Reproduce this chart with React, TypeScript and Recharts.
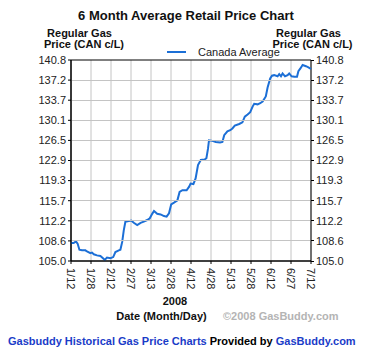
import React from "react";
import {
  LineChart,
  Line,
  XAxis,
  YAxis,
  CartesianGrid,
  Legend,
  ReferenceArea,
} from "recharts";

const dateLabels = ["1/12", "1/28", "2/12", "2/27", "3/13", "3/28", "4/12", "4/28", "5/13", "5/28", "6/12", "6/27", "7/12"];
const yTickLabels = ["105.0", "108.6", "112.2", "115.7", "119.3", "122.9", "126.5", "130.1", "133.7", "137.2", "140.8"];

// x position in tick intervals (0 = 1/12, 12 = 7/12)
const pointPos = [
  0, 0.13, 0.25, 0.33, 0.42, 0.55, 0.72, 0.8, 0.97, 1.05, 1.14, 1.3, 1.47, 1.6, 1.69, 1.8, 1.97, 2.11,
  2.22, 2.39, 2.47, 2.56, 2.64, 2.72, 2.89, 3.01, 3.14, 3.31, 3.48, 3.64, 3.81, 3.94, 4.06, 4.15, 4.31,
  4.48, 4.65, 4.78, 4.9, 5.01, 5.15, 5.32, 5.43, 5.57, 5.78, 5.9, 5.98, 6.12, 6.23, 6.35, 6.49, 6.69,
  6.77, 6.85, 6.9, 7.07, 7.24, 7.45, 7.57, 7.66, 7.82, 7.96, 8.07, 8.19, 8.41, 8.57, 8.69, 8.83, 8.96,
  9.08, 9.16, 9.33, 9.46, 9.58, 9.74, 9.83, 9.96, 10.05, 10.16, 10.33, 10.41, 10.5, 10.58, 10.7, 10.83,
  10.91, 11.03, 11.17, 11.3, 11.37, 11.47, 11.58, 11.75, 11.87, 12,
];
const prices = [
  108.2, 108.2, 108.5, 108.1, 107.0, 106.9, 106.9, 106.7, 106.4, 106.5, 106.2, 106.0, 105.9, 105.5,
  105.2, 105.6, 105.5, 105.7, 106.6, 106.9, 107.0, 108.4, 110.5, 112.0, 112.1, 112.2, 111.8, 111.4,
  111.8, 112.0, 112.3, 112.6, 113.4, 113.9, 113.4, 113.3, 113.0, 112.9, 113.5, 115.1, 115.4, 115.8,
  117.3, 117.6, 117.6, 118.2, 118.8, 118.7, 119.7, 122.1, 123.0, 123.1, 123.3, 125.0, 126.5, 126.4,
  126.2, 126.1, 126.2, 127.4, 128.1, 128.3, 128.6, 129.1, 129.4, 129.7, 130.7, 131.1, 131.5, 132.5,
  133.0, 132.9, 133.1, 133.4, 134.3, 135.9, 137.5, 138.0, 138.1, 137.9, 138.3, 137.9, 138.4, 137.9,
  138.1, 138.4, 137.9, 137.8, 137.8, 138.8, 139.3, 139.9, 139.7, 139.5, 139.2,
];

const data = pointPos.map((x, i) => ({ x, price: prices[i] }));

const FONT = "'Liberation Sans', Arial, Helvetica, sans-serif";
const PLOT_W = 240;
const yTicks = yTickLabels.map((_, i) => Math.round((105 + (i * 35.8) / 10) * 100) / 100);

function DateTick({ x, y, payload }: any) {
  return (
    <g transform={`translate(${x},${y})`}>
      <text
        transform="rotate(90)"
        x={2}
        y={0}
        dy="0.35em"
        textAnchor="start"
        fontSize={11}
        fill="#222"
        fontFamily={FONT}
      >
        {dateLabels[payload.value]}
      </text>
    </g>
  );
}

// left label, horizontal grid line, and the mirrored right-hand tick + label
function PriceTick({ x, y, index }: any) {
  const left = x + 5;
  const right = left + PLOT_W;
  const inner = index > 0 && index < yTickLabels.length - 1;
  const gy = Math.floor(y) + 0.5;
  return (
    <g>
      {inner && (
        <rect x={left + 1} y={Math.floor(y)} width={PLOT_W - 2} height={1} fill="#c4c4c4" />
      )}
      <text x={x} y={y} dy="0.35em" textAnchor="end" fontSize={11} fill="#222" fontFamily={FONT}>
        {yTickLabels[index]}
      </text>
      <line x1={right} y1={gy} x2={right + 3} y2={gy} stroke="#000" />
      <text x={right + 5} y={y} dy="0.35em" textAnchor="start" fontSize={11} fill="#222" fontFamily={FONT}>
        {yTickLabels[index]}
      </text>
    </g>
  );
}

function LegendBox() {
  return (
    <div style={{ display: "flex", alignItems: "center", fontFamily: FONT, fontSize: 11, color: "#222" }}>
      <svg width={31} height={6}>
        <line x1={0} y1={3} x2={19} y2={3} stroke="#1c6fd6" strokeWidth={2} />
      </svg>
      <span>Canada Average</span>
    </div>
  );
}

export default function App() {
  return (
    <div style={{ position: "absolute", left: 0, top: 0, width: 382, height: 353, background: "#fff" }}>
      <LineChart width={382} height={353} data={data} margin={{ top: 60, right: 71, bottom: 62, left: 0 }}>
        <CartesianGrid stroke="#c4c4c4" horizontal={false} />
        <YAxis
          domain={[105, 140.8]}
          ticks={yTicks}
          interval={0}
          width={71}
          tickSize={3}
          tickMargin={2}
          tick={<PriceTick />}
          axisLine={{ stroke: "#000" }}
          tickLine={{ stroke: "#000" }}
        />
        <XAxis
          dataKey="x"
          type="number"
          domain={[0, 12]}
          ticks={dateLabels.map((_, i) => i)}
          interval={0}
          height={30}
          tick={<DateTick />}
          tickSize={3}
          axisLine={{ stroke: "#000" }}
          tickLine={{ stroke: "#000" }}
        />
        <ReferenceArea x1={0} x2={12} y1={105} y2={140.8} fill="none" stroke="#000" strokeWidth={1} />
        <Legend
          layout="vertical"
          align="center"
          verticalAlign="middle"
          content={<LegendBox />}
          wrapperStyle={{ top: 46, left: 167, width: 130 }}
        />
        <Line
          dataKey="price"
          name="Canada Average"
          type="linear"
          stroke="#1c6fd6"
          strokeWidth={2}
          dot={false}
          isAnimationActive={false}
        />
      </LineChart>
      <svg
        width={382}
        height={353}
        style={{ position: "absolute", left: 0, top: 0, pointerEvents: "none" }}
        fontFamily={FONT}
      >
        <text x={186} y={19.5} textAnchor="middle" fontSize={13} fontWeight="bold" fill="#111">
          6 Month Average Retail Price Chart
        </text>
        <text x={79.5} y={36.5} textAnchor="middle" fontSize={11} fontWeight="bold" fill="#111">
          Regular Gas
        </text>
        <text x={84} y={47.5} textAnchor="middle" fontSize={11} fontWeight="bold" fill="#111">
          Price (CAN c/L)
        </text>
        <text x={308.5} y={36.5} textAnchor="middle" fontSize={11} fontWeight="bold" fill="#111">
          Regular Gas
        </text>
        <text x={312.5} y={47.5} textAnchor="middle" fontSize={11} fontWeight="bold" fill="#111">
          Price (CAN c/L)
        </text>
        <text x={175} y={304.5} textAnchor="middle" fontSize={11} fontWeight="bold" fill="#111">
          2008
        </text>
        <text x={161.5} y={320} textAnchor="middle" fontSize={11} fontWeight="bold" fill="#111">
          Date (Month/Day)
        </text>
        <text x={223} y={320} fontSize={11} fontWeight="bold" fill="#b4b4b4">
          ©2008 GasBuddy.com
        </text>
        <text x={8} y={344.5} fontSize={11} fontWeight="bold">
          <tspan fill="#1a3cc8">Gasbuddy Historical Gas Price Charts</tspan>
          <tspan fill="#000"> Provided by </tspan>
          <tspan fill="#1a3cc8">GasBuddy.com</tspan>
        </text>
      </svg>
    </div>
  );
}
